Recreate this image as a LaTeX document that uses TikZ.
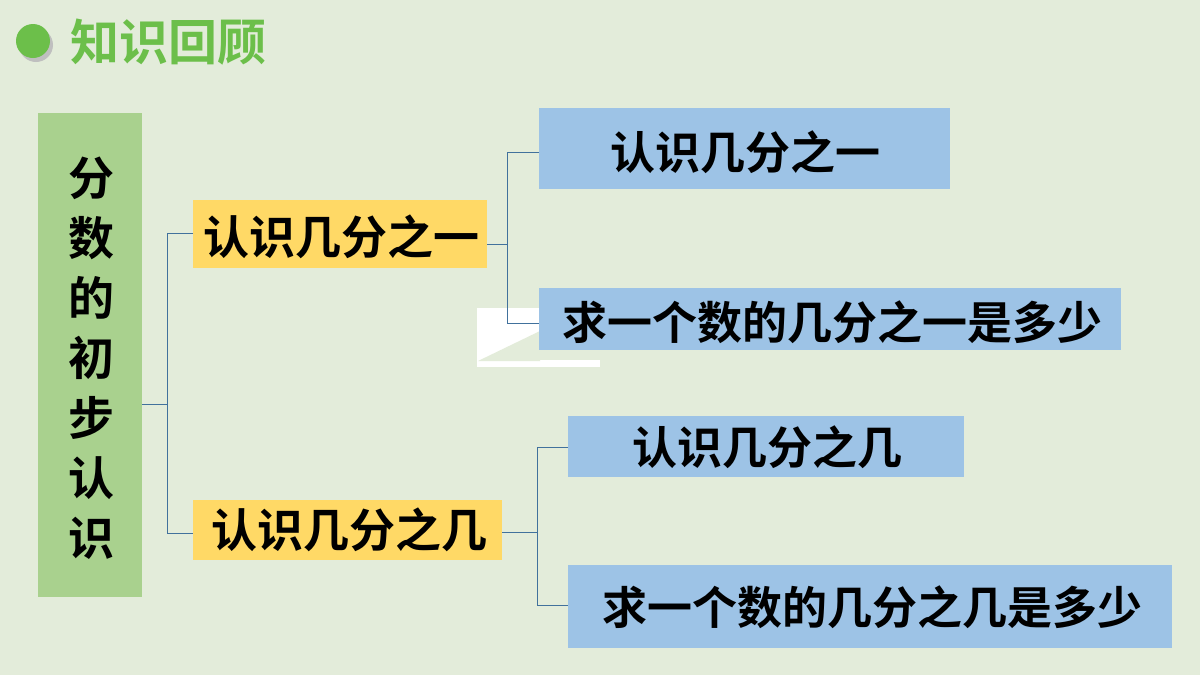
\documentclass[tikz,border=0pt]{standalone}
\usepackage{fontspec}
\newfontfamily\cjk{Noto Sans CJK SC}[BoldFont={Noto Sans CJK SC Bold}]
\definecolor{bg}{HTML}{E3ECDA}
\definecolor{tgreen}{HTML}{6CBF4A}
\definecolor{lgreen}{HTML}{A9D18E}
\definecolor{yel}{HTML}{FFD966}
\definecolor{blu}{HTML}{9DC3E6}
\definecolor{ln}{HTML}{41719C}
\begin{document}
\begin{tikzpicture}[x=1pt,y=-1pt,
  txt/.style={font=\cjk\bfseries,text=black,inner sep=0pt},
  ytxt/.style={txt,font=\cjk\bfseries\fontsize{46}{46}\selectfont},
  btxt/.style={txt,font=\cjk\bfseries\fontsize{45}{45}\selectfont},
  con/.style={draw=ln,line width=0.8pt}]
\fill[bg] (0,0) rectangle (1200,675);
\useasboundingbox (0,0) rectangle (1200,675);
% title
\fill[black!25] (36,45) circle (17);
\fill[tgreen] (33,41) circle (17) coordinate (dot);
\node[anchor=west,inner sep=0pt,font=\cjk\bfseries\fontsize{49}{49}\selectfont,text=tgreen] (title) at (70,42) {知识回顾};
% white artifact
\fill[white] (477,308) rectangle (540,367);
\fill[white] (540,360) rectangle (600,367);
\fill[bg] (478,361) -- (540,331) -- (540,361) -- cycle;
% boxes
\fill[lgreen] (38,113) rectangle (142,597);
\node[txt,font=\cjk\bfseries\fontsize{46}{60}\selectfont,align=center] (root) at (91,358) {分\\数\\的\\初\\步\\认\\识};
\coordinate (rootR) at (142,404);
\fill[yel] (193,200) rectangle (487,268);
\node[ytxt] (y1) at (341,237) {认识几分之一};
\coordinate (y1L) at (193,233); \coordinate (y1R) at (487,244);
\fill[yel] (193,500) rectangle (502,560);
\node[ytxt] (y2) at (349,530) {认识几分之几};
\coordinate (y2L) at (193,533); \coordinate (y2R) at (502,532);
\fill[blu] (539,108) rectangle (950,189);
\node[btxt] (b1) at (745,152) {认识几分之一};
\fill[blu] (539,288) rectangle (1121,350);
\node[btxt] (b2) at (832,322) {求一个数的几分之一是多少};
\fill[blu] (568,416) rectangle (964,477);
\node[btxt] (b3) at (767,447) {认识几分之几};
\fill[blu] (568,565) rectangle (1172,648);
\node[btxt] (b4) at (872,607) {求一个数的几分之几是多少};
\coordinate (b1L) at (539,152); \coordinate (b2L) at (539,323);
\coordinate (b3L) at (568,447); \coordinate (b4L) at (568,605);
% connectors
\draw[con] (rootR) -- (167,404);
\draw[con] (y1L) -| (167,533) -- (y2L);
\draw[con] (y1R) -- (507,244);
\draw[con] (b1L) -| (507,323) -- (b2L);
\draw[con] (y2R) -- (537,532);
\draw[con] (b3L) -| (537,605) -- (b4L);
\end{tikzpicture}
\end{document}
